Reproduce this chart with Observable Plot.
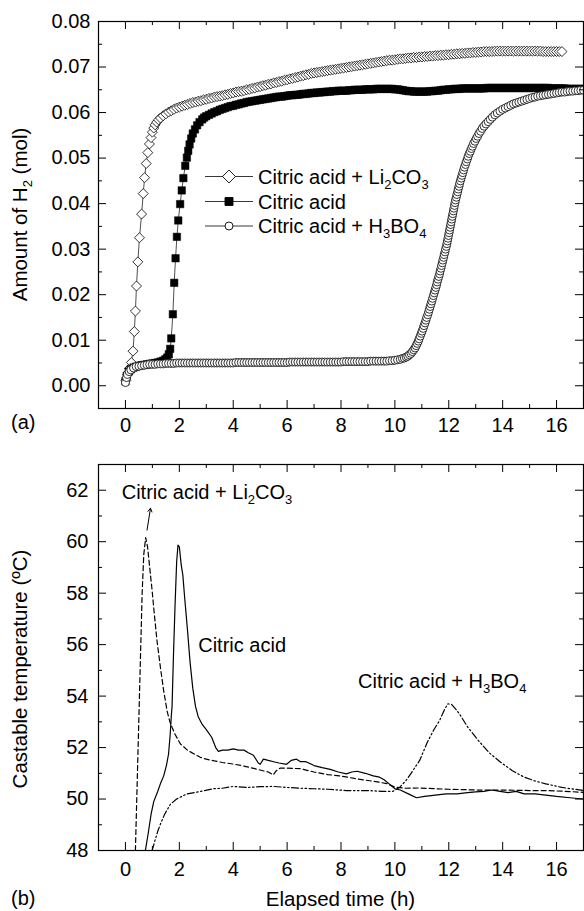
<!DOCTYPE html>
<html><head><meta charset="utf-8">
<script src="https://cdn.jsdelivr.net/npm/d3@7"></script>
<script src="https://cdn.jsdelivr.net/npm/@observablehq/plot@0.6"></script>
<style>
body{margin:0;background:#fff;}
#chart{width:584px;height:911px;}
#chart svg{display:block;}
</style></head><body><div id="chart"></div>
<script>
// ---------------- DATA ----------------
// (a) Amount of H2 (mol) vs elapsed time (h)
const h2Li2CO3 = [[0.02,0.0012],[0.08,0.0025],[0.15,0.0038],[0.22,0.0051],[0.28,0.0076],[0.33,0.0119],[0.37,0.0164],[0.41,0.0219],[0.46,0.0272],[0.52,0.0325],[0.6,0.0377],[0.66,0.0422],[0.71,0.0457],[0.77,0.0488],[0.83,0.0512],[0.89,0.0531],[0.95,0.0545],[1.0,0.0557],[1.05,0.0566],[1.1,0.0573],[1.16,0.0579],[1.23,0.0584],[1.3,0.0588],[1.4,0.0593],[1.5,0.0597],[1.6,0.0601],[1.7,0.0604],[1.8,0.0607],[1.9,0.0610],[2.0,0.0612],[2.1,0.0614],[2.2,0.0616],[2.3,0.0618],[2.4,0.0620],[2.5,0.0622],[2.6,0.0623],[2.7,0.0625],[2.8,0.0626],[2.9,0.0628],[3.0,0.0629],[3.1,0.0631],[3.2,0.0632],[3.3,0.0634],[3.4,0.0635],[3.5,0.0636],[3.6,0.0637],[3.7,0.0639],[3.8,0.0640],[3.9,0.0642],[4.0,0.0643],[4.1,0.0645],[4.2,0.0646],[4.3,0.0647],[4.4,0.0648],[4.5,0.0650],[4.6,0.0651],[4.7,0.0653],[4.8,0.0654],[4.9,0.0656],[5.0,0.0657],[5.1,0.0659],[5.2,0.0660],[5.3,0.0662],[5.4,0.0663],[5.5,0.0665],[5.6,0.0666],[5.7,0.0668],[5.8,0.0669],[5.9,0.0671],[6.0,0.0672],[6.1,0.0674],[6.2,0.0675],[6.3,0.0677],[6.4,0.0678],[6.5,0.0680],[6.6,0.0681],[6.7,0.0683],[6.8,0.0684],[6.9,0.0686],[7.0,0.0687],[7.1,0.0688],[7.2,0.0689],[7.3,0.0690],[7.4,0.0691],[7.5,0.0692],[7.6,0.0693],[7.7,0.0694],[7.8,0.0695],[7.9,0.0696],[8.0,0.0697],[8.1,0.0698],[8.2,0.0699],[8.3,0.0700],[8.4,0.0701],[8.5,0.0702],[8.6,0.0703],[8.7,0.0704],[8.8,0.0705],[8.9,0.0706],[9.0,0.0707],[9.1,0.0708],[9.2,0.0709],[9.3,0.0710],[9.4,0.0711],[9.5,0.0712],[9.6,0.0713],[9.7,0.0714],[9.8,0.0715],[9.9,0.0715],[10.0,0.0716],[10.1,0.0717],[10.2,0.0718],[10.3,0.0718],[10.4,0.0719],[10.5,0.0720],[10.6,0.0720],[10.7,0.0721],[10.8,0.0721],[10.9,0.0722],[11.0,0.0722],[11.1,0.0723],[11.2,0.0723],[11.3,0.0724],[11.4,0.0724],[11.5,0.0725],[11.6,0.0725],[11.7,0.0726],[11.8,0.0726],[11.9,0.0727],[12.0,0.0727],[12.1,0.0728],[12.2,0.0728],[12.3,0.0729],[12.4,0.0729],[12.5,0.0730],[12.6,0.0730],[12.7,0.0731],[12.8,0.0731],[12.9,0.0732],[13.0,0.0732],[13.1,0.0733],[13.2,0.0733],[13.3,0.0734],[13.4,0.0734],[13.5,0.0734],[13.6,0.0734],[13.7,0.0735],[13.8,0.0735],[13.9,0.0735],[14.0,0.0735],[14.1,0.0735],[14.2,0.0735],[14.3,0.0735],[14.4,0.0735],[14.5,0.0735],[14.6,0.0735],[14.7,0.0735],[14.8,0.0735],[14.9,0.0735],[15.0,0.0735],[15.1,0.0735],[15.2,0.0735],[15.3,0.0735],[15.4,0.0735],[15.5,0.0734],[15.6,0.0734],[15.7,0.0734],[15.8,0.0734],[15.9,0.0734],[16.0,0.0734],[16.1,0.0734],[16.2,0.0734]];

const h2Citric = [[0.0,0.0010],[0.05,0.0022],[0.12,0.0031],[0.2,0.0036],[0.3,0.0040],[0.4,0.0042],[0.5,0.0044],[0.6,0.0045],[0.7,0.0046],[0.8,0.0047],[0.9,0.0048],[1.0,0.0049],[1.1,0.0050],[1.2,0.0051],[1.3,0.0053],[1.4,0.0055],[1.48,0.0058],[1.55,0.0062],[1.61,0.0069],[1.66,0.0081],[1.70,0.0104],[1.76,0.0157],[1.81,0.0226],[1.86,0.0280],[1.91,0.0327],[1.96,0.0363],[2.03,0.0399],[2.09,0.0429],[2.15,0.0456],[2.22,0.0483],[2.28,0.0501],[2.33,0.0516],[2.38,0.0530],[2.44,0.0543],[2.5,0.0554],[2.58,0.0563],[2.66,0.0572],[2.75,0.0579],[2.85,0.0585],[2.92,0.0589],[3.0,0.0592],[3.1,0.0595],[3.2,0.0598],[3.3,0.0601],[3.4,0.0603],[3.5,0.0606],[3.6,0.0608],[3.7,0.0610],[3.8,0.0612],[3.9,0.0614],[4.0,0.0615],[4.1,0.0617],[4.2,0.0618],[4.3,0.0620],[4.4,0.0621],[4.5,0.0623],[4.6,0.0624],[4.7,0.0625],[4.8,0.0626],[4.9,0.0627],[5.0,0.0628],[5.1,0.0629],[5.2,0.0630],[5.3,0.0631],[5.4,0.0632],[5.5,0.0633],[5.6,0.0634],[5.7,0.0635],[5.8,0.0635],[5.9,0.0636],[6.0,0.0637],[6.1,0.0638],[6.2,0.0638],[6.3,0.0639],[6.4,0.0639],[6.5,0.0640],[6.6,0.0641],[6.7,0.0641],[6.8,0.0642],[6.9,0.0643],[7.0,0.0643],[7.1,0.0644],[7.2,0.0644],[7.3,0.0645],[7.4,0.0645],[7.5,0.0646],[7.6,0.0646],[7.7,0.0647],[7.8,0.0647],[7.9,0.0648],[8.0,0.0648],[8.1,0.0648],[8.2,0.0648],[8.3,0.0649],[8.4,0.0649],[8.5,0.0650],[8.6,0.0650],[8.7,0.0650],[8.8,0.0650],[8.9,0.0651],[9.0,0.0651],[9.1,0.0651],[9.2,0.0651],[9.3,0.0652],[9.4,0.0652],[9.5,0.0652],[9.6,0.0652],[9.7,0.0652],[9.8,0.0652],[9.9,0.0652],[10.0,0.0651],[10.1,0.0651],[10.2,0.0650],[10.3,0.0649],[10.4,0.0648],[10.5,0.0647],[10.6,0.0647],[10.7,0.0646],[10.8,0.0646],[10.9,0.0646],[11.0,0.0646],[11.1,0.0646],[11.2,0.0646],[11.3,0.0647],[11.4,0.0647],[11.5,0.0648],[11.6,0.0648],[11.7,0.0649],[11.8,0.0650],[11.9,0.0650],[12.0,0.0651],[12.1,0.0651],[12.2,0.0652],[12.3,0.0652],[12.4,0.0652],[12.5,0.0653],[12.6,0.0653],[12.7,0.0653],[12.8,0.0653],[12.9,0.0653],[13.0,0.0653],[13.1,0.0653],[13.2,0.0653],[13.3,0.0653],[13.4,0.0654],[13.5,0.0654],[13.6,0.0654],[13.7,0.0654],[13.8,0.0654],[13.9,0.0654],[14.0,0.0654],[14.1,0.0654],[14.2,0.0654],[14.3,0.0654],[14.4,0.0654],[14.5,0.0654],[14.6,0.0654],[14.7,0.0654],[14.8,0.0654],[14.9,0.0654],[15.0,0.0654],[15.1,0.0654],[15.2,0.0654],[15.3,0.0654],[15.4,0.0654],[15.5,0.0654],[15.6,0.0654],[15.7,0.0654],[15.8,0.0653],[15.9,0.0653],[16.0,0.0653],[16.1,0.0653],[16.2,0.0653],[16.3,0.0653],[16.4,0.0652],[16.5,0.0652],[16.6,0.0652],[16.7,0.0652],[16.8,0.0652],[16.9,0.0652],[17.0,0.0652]];

const h2H3BO4 = [[0.0,0.0007],[0.04,0.0018],[0.08,0.0025],[0.14,0.0031],[0.2,0.0035],[0.3,0.0039],[0.4,0.0042],[0.5,0.0043],[0.6,0.0044],[0.7,0.0045],[0.8,0.0046],[0.9,0.0047],[1.0,0.0047],[1.1,0.0047],[1.2,0.0048],[1.3,0.0048],[1.4,0.0048],[1.5,0.0049],[1.6,0.0049],[1.7,0.0049],[1.8,0.0049],[1.9,0.0050],[2.0,0.0050],[2.1,0.0050],[2.2,0.0050],[2.3,0.0050],[2.4,0.0050],[2.5,0.0050],[2.6,0.0050],[2.7,0.0050],[2.8,0.0050],[2.9,0.0050],[3.0,0.0050],[3.1,0.0050],[3.2,0.0050],[3.3,0.0050],[3.4,0.0050],[3.5,0.0050],[3.6,0.0050],[3.7,0.0050],[3.8,0.0050],[3.9,0.0050],[4.0,0.0050],[4.1,0.0051],[4.2,0.0051],[4.3,0.0051],[4.4,0.0051],[4.5,0.0051],[4.6,0.0051],[4.7,0.0051],[4.8,0.0051],[4.9,0.0051],[5.0,0.0051],[5.1,0.0051],[5.2,0.0051],[5.3,0.0051],[5.4,0.0051],[5.5,0.0051],[5.6,0.0051],[5.7,0.0051],[5.8,0.0051],[5.9,0.0051],[6.0,0.0051],[6.1,0.0052],[6.2,0.0052],[6.3,0.0052],[6.4,0.0052],[6.5,0.0052],[6.6,0.0052],[6.7,0.0052],[6.8,0.0052],[6.9,0.0052],[7.0,0.0052],[7.1,0.0052],[7.2,0.0052],[7.3,0.0052],[7.4,0.0052],[7.5,0.0052],[7.6,0.0052],[7.7,0.0052],[7.8,0.0052],[7.9,0.0052],[8.0,0.0052],[8.1,0.0053],[8.2,0.0053],[8.3,0.0053],[8.4,0.0053],[8.5,0.0053],[8.6,0.0053],[8.7,0.0053],[8.8,0.0053],[8.9,0.0053],[9.0,0.0053],[9.1,0.0054],[9.2,0.0054],[9.3,0.0054],[9.4,0.0054],[9.5,0.0054],[9.6,0.0054],[9.7,0.0054],[9.8,0.0055],[9.9,0.0055],[10.0,0.0056],[10.1,0.0057],[10.2,0.0058],[10.28,0.0060],[10.35,0.0061],[10.42,0.0063],[10.48,0.0065],[10.54,0.0068],[10.6,0.0071],[10.65,0.0075],[10.7,0.0079],[10.75,0.0083],[10.79,0.0088],[10.83,0.0093],[10.87,0.0098],[10.9,0.0103],[10.94,0.0109],[10.98,0.0115],[11.01,0.0120],[11.05,0.0126],[11.08,0.0132],[11.12,0.0138],[11.15,0.0144],[11.18,0.0150],[11.22,0.0156],[11.25,0.0162],[11.28,0.0168],[11.31,0.0174],[11.34,0.0180],[11.37,0.0186],[11.4,0.0192],[11.43,0.0198],[11.46,0.0204],[11.49,0.0210],[11.52,0.0216],[11.55,0.0222],[11.57,0.0228],[11.6,0.0234],[11.63,0.0240],[11.66,0.0246],[11.68,0.0252],[11.71,0.0258],[11.73,0.0264],[11.76,0.0270],[11.78,0.0276],[11.81,0.0282],[11.83,0.0288],[11.86,0.0294],[11.88,0.0300],[11.91,0.0306],[11.93,0.0312],[11.95,0.0318],[11.97,0.0324],[11.99,0.0330],[12.01,0.0336],[12.03,0.0342],[12.05,0.0348],[12.07,0.0354],[12.09,0.0360],[12.11,0.0366],[12.13,0.0372],[12.15,0.0378],[12.17,0.0384],[12.19,0.0390],[12.21,0.0396],[12.23,0.0402],[12.25,0.0408],[12.28,0.0414],[12.3,0.0420],[12.33,0.0426],[12.35,0.0432],[12.38,0.0438],[12.4,0.0444],[12.43,0.0450],[12.46,0.0456],[12.49,0.0462],[12.52,0.0468],[12.55,0.0474],[12.58,0.0480],[12.62,0.0486],[12.65,0.0492],[12.69,0.0498],[12.72,0.0504],[12.76,0.0510],[12.8,0.0515],[12.84,0.0521],[12.88,0.0526],[12.92,0.0532],[12.97,0.0537],[13.02,0.0543],[13.07,0.0548],[13.12,0.0554],[13.18,0.0559],[13.24,0.0565],[13.31,0.0570],[13.38,0.0575],[13.46,0.0580],[13.54,0.0585],[13.62,0.0590],[13.71,0.0595],[13.8,0.0599],[13.9,0.0603],[14.0,0.0607],[14.1,0.0610],[14.2,0.0613],[14.3,0.0616],[14.4,0.0619],[14.5,0.0621],[14.6,0.0623],[14.7,0.0625],[14.8,0.0627],[14.9,0.0629],[15.0,0.0631],[15.1,0.0633],[15.2,0.0634],[15.3,0.0636],[15.4,0.0637],[15.5,0.0638],[15.6,0.0639],[15.7,0.0640],[15.8,0.0641],[15.9,0.0642],[16.0,0.0643],[16.1,0.0644],[16.2,0.0645],[16.3,0.0645],[16.4,0.0646],[16.5,0.0647],[16.6,0.0647],[16.7,0.0648],[16.8,0.0648],[16.9,0.0649],[17.0,0.0649]];

// (b) Castable temperature (°C) vs elapsed time (h)
const tempLi2CO3 = [[0.37,48.0],[0.42,50.0],[0.47,52.0],[0.52,54.0],[0.57,56.0],[0.62,58.0],[0.68,59.5],[0.75,60.16],[0.82,59.8],[0.9,59.0],[0.99,58.1],[1.08,57.1],[1.17,56.16],[1.3,55.1],[1.42,54.2],[1.55,53.4],[1.65,53.0],[1.73,52.79],[1.85,52.5],[2.04,52.14],[2.3,51.9],[2.55,51.75],[2.78,51.62],[3.0,51.55],[3.3,51.48],[3.6,51.42],[4.0,51.36],[4.4,51.28],[4.8,51.18],[5.1,51.1],[5.3,51.05],[5.48,50.94],[5.6,51.1],[5.74,51.2],[6.0,51.2],[6.48,51.18],[7.0,51.05],[7.5,50.95],[7.96,50.9],[8.5,50.8],[9.0,50.72],[9.44,50.65],[9.7,50.6],[10.0,50.46],[10.4,50.42],[10.9,50.43],[11.5,50.4],[12.0,50.38],[13.1,50.35],[14.0,50.35],[15.0,50.33],[15.6,50.33],[16.3,50.3],[17.0,50.26]];

const tempCitric = [[0.74,48.0],[0.85,48.7],[0.95,49.4],[1.05,49.9],[1.2,50.3],[1.3,50.6],[1.42,50.9],[1.52,51.3],[1.6,51.75],[1.66,52.5],[1.7,53.2],[1.73,53.6],[1.78,55.5],[1.84,57.5],[1.9,59.2],[1.95,59.87],[2.0,59.8],[2.07,59.1],[2.13,58.7],[2.2,57.8],[2.3,56.6],[2.4,55.3],[2.5,54.3],[2.6,53.6],[2.7,53.2],[2.85,52.9],[3.0,52.7],[3.2,52.4],[3.35,52.0],[3.45,51.85],[3.6,51.9],[3.8,51.9],[4.0,51.95],[4.2,51.9],[4.4,51.9],[4.56,51.8],[4.75,51.7],[4.93,51.4],[5.0,51.35],[5.12,51.55],[5.3,51.5],[5.5,51.45],[5.7,51.4],[5.98,51.35],[6.15,51.5],[6.35,51.55],[6.5,51.45],[6.7,51.45],[7.0,51.3],[7.3,51.22],[7.6,51.15],[7.9,51.05],[8.2,50.98],[8.4,51.05],[8.6,51.08],[8.9,51.0],[9.2,50.9],[9.43,50.85],[9.6,50.75],[9.8,50.58],[10.0,50.4],[10.2,50.35],[10.5,50.2],[10.8,50.05],[11.1,50.1],[11.5,50.15],[11.9,50.2],[12.3,50.2],[12.7,50.25],[13.0,50.28],[13.3,50.3],[13.6,50.35],[13.9,50.3],[14.2,50.25],[14.5,50.3],[14.8,50.2],[15.2,50.2],[15.6,50.15],[16.0,50.1],[16.5,50.05],[17.0,50.0]];

const tempH3BO4 = [[0.99,48.0],[1.1,48.4],[1.2,48.75],[1.3,49.03],[1.45,49.4],[1.67,49.8],[1.9,50.0],[2.28,50.2],[2.7,50.28],[3.27,50.4],[3.6,50.42],[4.0,50.49],[4.5,50.45],[5.0,50.48],[5.49,50.49],[6.0,50.45],[6.5,50.42],[7.0,50.4],[7.5,50.38],[8.2,50.33],[9.0,50.33],[9.5,50.3],[9.93,50.3],[10.18,50.46],[10.4,50.7],[10.6,51.0],[10.92,51.5],[11.2,52.2],[11.45,52.7],[11.66,53.05],[11.85,53.5],[11.97,53.7],[12.1,53.68],[12.25,53.5],[12.4,53.3],[12.7,52.8],[13.1,52.27],[13.5,51.8],[13.9,51.45],[14.36,51.1],[14.8,50.85],[15.2,50.7],[15.6,50.59],[16.2,50.45],[17.0,50.33]];

// Axis ticks
const xMajor = [0,2,4,6,8,10,12,14,16];
const xMinor = [1,3,5,7,9,11,13,15];
const yMajorA = [0,0.01,0.02,0.03,0.04,0.05,0.06,0.07,0.08];
const yMinorA = [0.005,0.015,0.025,0.035,0.045,0.055,0.065,0.075];
const yMajorB = [48,50,52,54,56,58,60,62];
const yMinorB = [49,51,53,55,57,59,61];

// ---------------- RENDER ----------------
const FONT = '"Liberation Sans", Arial, Helvetica, sans-serif';
const W = 584, ML = 98, MR = 1;
const FW = W - ML - MR;

function tickMarks(xM, xm, yM, ym, FH) {
  const big = 8, small = 4;
  const m = [];
  const st = {stroke: "black", strokeWidth: 1};
  m.push(Plot.tickX(xM, {x: d => d, insetTop: FH - big, ...st}));
  m.push(Plot.tickX(xM, {x: d => d, insetBottom: FH - big, ...st}));
  m.push(Plot.tickX(xm, {x: d => d, insetTop: FH - small, ...st}));
  m.push(Plot.tickX(xm, {x: d => d, insetBottom: FH - small, ...st}));
  m.push(Plot.tickY(yM, {y: d => d, insetRight: FW - big, ...st}));
  m.push(Plot.tickY(yM, {y: d => d, insetLeft: FW - big, ...st}));
  m.push(Plot.tickY(ym, {y: d => d, insetRight: FW - small, ...st}));
  m.push(Plot.tickY(ym, {y: d => d, insetLeft: FW - small, ...st}));
  return m;
}

function richText(svg, x, y, parts, {size = 20, rotate = false, anchor = "start"} = {}) {
  const t = d3.select(svg).append("text")
    .attr("x", x).attr("y", y)
    .attr("font-family", FONT).attr("font-size", size)
    .attr("fill", "black").attr("text-anchor", anchor);
  if (rotate) t.attr("transform", `rotate(-90 ${x} ${y})`);
  let shifted = false;
  for (const p of parts) {
    const s = t.append("tspan");
    if (typeof p === "string") {
      s.text(p);
      if (shifted) { s.attr("dy", -5); shifted = false; }
    } else {
      s.text(p.sub).attr("font-size", Math.round(size * 0.65)).attr("dy", 5);
      shifted = true;
    }
  }
  return t;
}

const toObj = arr => arr.map(([t, v]) => ({t, v}));

// ---- Panel (a)
const HA = 440, MTA = 21, MBA = 32, FHA = HA - MTA - MBA;
const plotA = Plot.plot({
  width: W, height: HA,
  marginLeft: ML, marginRight: MR, marginTop: MTA, marginBottom: MBA,
  style: {fontFamily: FONT, fontSize: "20px", color: "black", background: "white"},
  x: {domain: [-1, 17]},
  y: {domain: [-0.005, 0.08]},
  marks: [
    Plot.axisX({ticks: xMajor, tickSize: 0, tickPadding: 9, label: null, tickFormat: d3.format("d")}),
    Plot.axisY({ticks: yMajorA, tickSize: 0, tickPadding: 8, label: null, tickFormat: d3.format(".2f")}),
    Plot.line(toObj(h2Li2CO3), {x: "t", y: "v", stroke: "#222", strokeWidth: 0.8}),
    Plot.line(toObj(h2Citric), {x: "t", y: "v", stroke: "#222", strokeWidth: 0.8}),
    Plot.line(toObj(h2H3BO4), {x: "t", y: "v", stroke: "#222", strokeWidth: 0.8}),
    Plot.dot(toObj(h2Li2CO3), {x: "t", y: "v", symbol: "diamond2", r: 4.5, fill: "white", stroke: "black", strokeWidth: 0.8}),
    Plot.dot(toObj(h2Citric), {x: "t", y: "v", symbol: "square", r: 4.2, fill: "black", stroke: "black", strokeWidth: 0.5}),
    Plot.dot(toObj(h2H3BO4), {x: "t", y: "v", symbol: "circle", r: 4, fill: "white", stroke: "black", strokeWidth: 0.8}),
    ...tickMarks(xMajor, xMinor, yMajorA, yMinorA, FHA),
    Plot.frame({stroke: "black", strokeWidth: 1.2})
  ]
});

// ---- Panel (b)
const HB = 471, MTB = 24, MBB = 61, FHB = HB - MTB - MBB;
const plotB = Plot.plot({
  width: W, height: HB,
  marginLeft: ML, marginRight: MR, marginTop: MTB, marginBottom: MBB,
  style: {fontFamily: FONT, fontSize: "20px", color: "black", background: "white"},
  x: {domain: [-1, 17]},
  y: {domain: [48, 63]},
  clip: true,
  marks: [
    Plot.axisX({ticks: xMajor, tickSize: 0, tickPadding: 11, label: null, tickFormat: d3.format("d")}),
    Plot.axisY({ticks: yMajorB, tickSize: 0, tickPadding: 10, label: null, tickFormat: d3.format("d")}),
    Plot.line(toObj(tempLi2CO3), {x: "t", y: "v", stroke: "black", strokeWidth: 1.2, strokeDasharray: "5,3", clip: true}),
    Plot.line(toObj(tempCitric), {x: "t", y: "v", stroke: "black", strokeWidth: 1.2, clip: true}),
    Plot.line(toObj(tempH3BO4), {x: "t", y: "v", stroke: "black", strokeWidth: 1.2, strokeDasharray: "7,2.5,1.5,2.5,1.5,2.5", clip: true}),
    Plot.arrow([{x1: 0.8, y1: 60.45, x2: 0.93, y2: 61.3}], {x1: "x1", y1: "y1", x2: "x2", y2: "y2", stroke: "black", strokeWidth: 1, headLength: 6}),
    ...tickMarks(xMajor, xMinor, yMajorB, yMinorB, FHB),
    Plot.frame({stroke: "black", strokeWidth: 1.2})
  ]
});

const chart = document.getElementById("chart");
chart.appendChild(plotA);
chart.appendChild(plotB);

// Titles & legend panel (a)
richText(plotA, 27, (MTA + HA - MBA) / 2, ["Amount of H", {sub: "2"}, " (mol)"], {rotate: true, anchor: "middle", size: 20.5});
richText(plotA, 11, 429, ["(a)"]);

{
  const g = d3.select(plotA).append("g");
  const rows = [
    {y: 176.5, sym: d3.symbolDiamond2, size: Math.PI * 5.8 * 5.8, fill: "white", parts: ["Citric acid + Li", {sub: "2"}, "CO", {sub: "3"}]},
    {y: 201.5, sym: d3.symbolSquare, size: Math.PI * 4.5 * 4.5, fill: "black", parts: ["Citric acid"]},
    {y: 226, sym: d3.symbolCircle, size: Math.PI * 4 * 4, fill: "white", parts: ["Citric acid + H", {sub: "3"}, "BO", {sub: "4"}]}
  ];
  for (const r of rows) {
    g.append("line").attr("x1", 205).attr("x2", 253).attr("y1", r.y).attr("y2", r.y).attr("stroke", "#222").attr("stroke-width", 0.9);
    g.append("path").attr("d", d3.symbol(r.sym, r.size)()).attr("transform", `translate(229,${r.y})`)
      .attr("fill", r.fill).attr("stroke", "black").attr("stroke-width", 0.9);
    richText(plotA, 258, r.y + 7, r.parts);
  }
}

// Titles & annotations panel (b)
const sxB = plotB.scale("x"), syB = plotB.scale("y");
richText(plotB, 27, (MTB + HB - MBB) / 2 + 12, ["Castable temperature (ºC)"], {rotate: true, anchor: "middle", size: 20.5});
richText(plotB, sxB.apply(-0.12), syB.apply(61.65), ["Citric acid + Li", {sub: "2"}, "CO", {sub: "3"}]);
richText(plotB, sxB.apply(2.72), syB.apply(55.7), ["Citric acid"]);
richText(plotB, sxB.apply(8.65), syB.apply(54.3), ["Citric acid + H", {sub: "3"}, "BO", {sub: "4"}]);
richText(plotB, ML + FW / 2, 466, ["Elapsed time (h)"], {anchor: "middle", size: 20.5});
richText(plotB, 11, 465, ["(b)"]);
</script></body></html>
